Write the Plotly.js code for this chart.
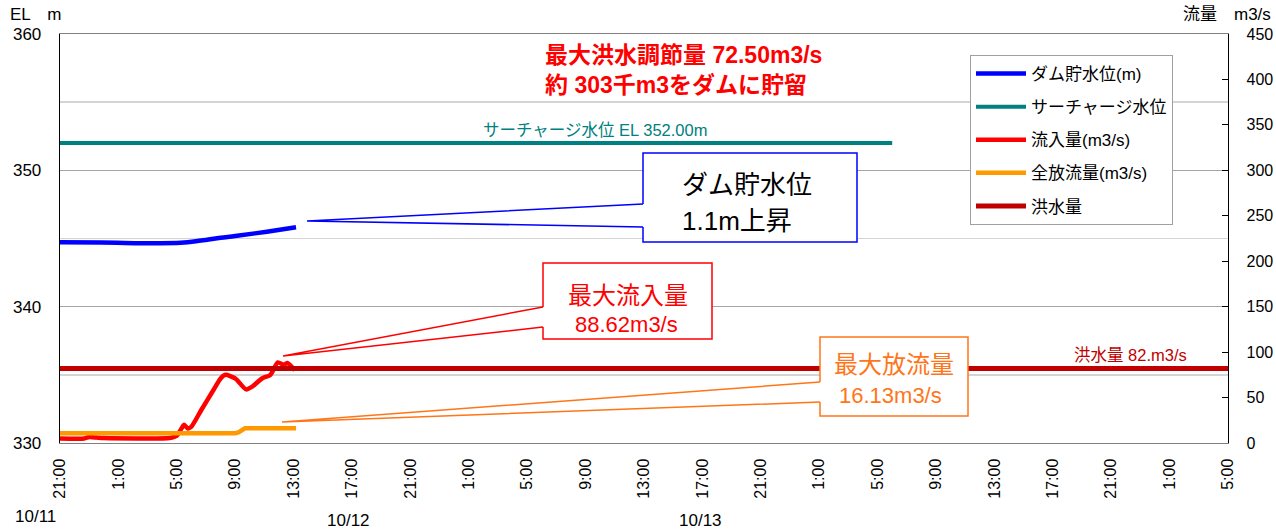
<!DOCTYPE html>
<html>
<head>
<meta charset="utf-8">
<script src="https://cdn.plot.ly/plotly-3.0.1.min.js"></script>
<style>html,body{margin:0;padding:0;background:#fff;}#chart{width:1276px;height:529px;}</style>
</head>
<body>
<div id="chart"></div>
<script>
// ---- data ----
const levelTimes = ['2019-10-11 21:00','2019-10-11 23:50','2019-10-12 05:15','2019-10-12 06:40','2019-10-12 08:00','2019-10-12 09:00','2019-10-12 11:10','2019-10-12 13:10'];
const levelValues = [344.72, 344.70, 344.68, 344.85, 345.05, 345.18, 345.50, 345.82];

const surchargeTimes = ['2019-10-11 21:00','2019-10-14 06:00'];
const surchargeValues = [352.0, 352.0];

const inflowTimes = ['2019-10-11 21:00','2019-10-11 22:40','2019-10-11 23:00','2019-10-11 23:30','2019-10-12 00:00','2019-10-12 04:30','2019-10-12 05:00','2019-10-12 05:15','2019-10-12 05:30','2019-10-12 05:45','2019-10-12 06:00','2019-10-12 06:40','2019-10-12 07:30','2019-10-12 08:00','2019-10-12 08:20','2019-10-12 09:00','2019-10-12 09:45','2019-10-12 10:10','2019-10-12 10:50','2019-10-12 11:25','2019-10-12 11:55','2019-10-12 12:20','2019-10-12 12:35','2019-10-12 13:05'];
const inflowValues = [5, 5, 6.5, 6, 5.5, 5.5, 8, 14, 20, 16, 18, 36, 58, 71, 75, 71, 59, 62, 71, 75, 88.6, 86, 88, 80];

const outflowTimes = ['2019-10-11 21:00','2019-10-12 09:00','2019-10-12 09:15','2019-10-12 09:40','2019-10-12 13:10'];
const outflowValues = [10.7, 10.7, 12, 16.1, 16.1];

const floodTimes = ['2019-10-11 21:00','2019-10-15 05:00'];
const floodValues = [82, 82];

const xRange = ['2019-10-11 21:00','2019-10-15 05:00'];
const dateLabels = ['10/11','10/12','10/13'];
const seriesNames = ['ダム貯水位(m)','サーチャージ水位','流入量(m3/s)','全放流量(m3/s)','洪水量'];

// ---- layout helpers (pixel -> paper) ----
const L = 60, R = 48, T = 34, B = 86, W = 1276, H = 529;
const PW = W - L - R, PH = H - T - B;
const px = x => (x - L) / PW;
const py = y => (H - B - y) / PH;
const FONT = 'Liberation Sans, Noto Sans CJK JP, sans-serif';

function callout(box, tip, gapTop, gapBot, color) {
  const [x0, y0, x1, y1] = box;
  return [
    {type:'rect', xref:'paper', yref:'paper', x0:px(x0), x1:px(x1), y0:py(y1), y1:py(y0), fillcolor:'#fff', line:{width:0}, layer:'above'},
    {type:'path', xref:'paper', yref:'paper', layer:'above', line:{color:color, width:1.5},
      path:`M${px(x0)},${py(gapTop)} L${px(x0)},${py(y0)} L${px(x1)},${py(y0)} L${px(x1)},${py(y1)} L${px(x0)},${py(y1)} L${px(x0)},${py(gapBot)}`},
    {type:'path', xref:'paper', yref:'paper', layer:'above', line:{color:color, width:1.5},
      path:`M${px(tip[0])},${py(tip[1])} L${px(x0)},${py(gapTop)} M${px(tip[0])},${py(tip[1])} L${px(x0)},${py(gapBot)}`}
  ];
}

const traces = [
  {x: levelTimes, y: levelValues, name: seriesNames[0], type:'scatter', mode:'lines', line:{color:'#0000ff', width:4.5, shape:'spline'}, yaxis:'y', legendgroup:'a'},
  {x: surchargeTimes, y: surchargeValues, name: seriesNames[1], type:'scatter', mode:'lines', line:{color:'#008080', width:4}, yaxis:'y', legendgroup:'b'},
  {x: inflowTimes, y: inflowValues, name: seriesNames[2], type:'scatter', mode:'lines', line:{color:'#ff0000', width:4.5, shape:'spline', smoothing:0.6}, yaxis:'y2', legendgroup:'c'},
  {x: outflowTimes, y: outflowValues, name: seriesNames[3], type:'scatter', mode:'lines', line:{color:'#ff9900', width:4.5}, yaxis:'y2', legendgroup:'d'},
  {x: floodTimes, y: floodValues, name: seriesNames[4], type:'scatter', mode:'lines', line:{color:'#c00000', width:5}, yaxis:'y2', legendgroup:'e'}
];

const shapes = [].concat(
  callout([643,153,857,242], [307,221], 204, 227, '#0000ff'),
  callout([543,263,712,339], [283,356], 307, 327, '#ff0000'),
  callout([820,337,968,416], [282,422], 382, 402, '#ff7518')
);

const ann = (x, y, text, opts) => Object.assign({xref:'paper', yref:'paper', x:px(x), y:py(y), xanchor:'center', yanchor:'middle', text:text, showarrow:false, font:{family:FONT, size:16, color:'#000'}}, opts || {});

const annotations = [
  ann(35, 14, 'EL　m', {font:{family:FONT, size:17, color:'#000'}}),
  ann(1273, 14, '流量　m3/s', {xanchor:'right', font:{family:FONT, size:17, color:'#000'}}),
  ann(543, 55, '<b>最大洪水調節量 72.50m3/s</b>', {xanchor:'left', font:{family:FONT, size:23, color:'#ff0000'}}),
  ann(543, 85, '<b>約 303千m3をダムに貯留</b>', {xanchor:'left', font:{family:FONT, size:23, color:'#ff0000'}}),
  ann(595, 130, 'サーチャージ水位 EL 352.00m', {font:{family:FONT, size:16.5, color:'#008080'}}),
  ann(680, 185, 'ダム貯水位', {xanchor:'left', font:{family:FONT, size:26, color:'#000'}}),
  ann(680, 221, '1.1m上昇', {xanchor:'left', font:{family:FONT, size:26, color:'#000'}}),
  ann(628, 295, '最大流入量', {font:{family:FONT, size:24, color:'#ff0000'}}),
  ann(626, 324, '88.62m3/s', {font:{family:FONT, size:22, color:'#ff0000'}}),
  ann(894, 364, '最大放流量', {font:{family:FONT, size:24, color:'#ff7518'}}),
  ann(890, 395, '16.13m3/s', {font:{family:FONT, size:22, color:'#ff7518'}}),
  ann(1130, 355, '洪水量 82.m3/s', {font:{family:FONT, size:16.5, color:'#c00000'}}),
  ann(35, 516, dateLabels[0], {font:{family:FONT, size:17, color:'#000'}}),
  ann(348, 520, dateLabels[1], {font:{family:FONT, size:17, color:'#000'}}),
  ann(700, 520, dateLabels[2], {font:{family:FONT, size:17, color:'#000'}})
];

const layout = {
  width: W, height: H,
  margin: {l:L, r:R, t:T, b:B, pad:0},
  paper_bgcolor:'#fff', plot_bgcolor:'#fff',
  font: {family: FONT, color:'#000'},
  showlegend: true,
  legend: {
    x: px(970), y: py(55), xanchor:'left', yanchor:'top',
    bgcolor:'#fff', bordercolor:'#a0a0a0', borderwidth:1,
    font:{family:FONT, size:17, color:'#000'},
    tracegroupgap: 8, itemwidth: 50
  },
  xaxis: {
    type:'date', range: xRange,
    tick0:'2019-10-11 21:00', dtick: 4*3600*1000,
    tickformat:'%-H:%M', tickangle:-90,
    tickfont:{family:FONT, size:16, color:'#000'},
    showgrid:false, zeroline:false,
    showline:true, linecolor:'#808080', linewidth:1.3, mirror:true,
    ticks:'', ticklabelstandoff: 8
  },
  yaxis: {
    range:[330,360], dtick:10, tick0:330,
    tickfont:{family:FONT, size:17, color:'#000'},
    showgrid:true, gridcolor:'#a6a6a6', gridwidth:1,
    minor:{dtick:5, showgrid:true, gridcolor:'#d4d4d4', gridwidth:1.5, ticks:''},
    zeroline:false, showline:true, linecolor:'#000', linewidth:1.3,
    ticks:'', ticklabelstandoff: 14
  },
  yaxis2: {
    range:[0,450], dtick:50, overlaying:'y', side:'right',
    tickfont:{family:FONT, size:16, color:'#000'},
    showgrid:false, zeroline:false,
    showline:true, linecolor:'#000', linewidth:1.3,
    ticks:'inside', ticklen:6, tickcolor:'#000', ticklabelstandoff: 14
  },
  shapes: shapes,
  annotations: annotations
};

Plotly.newPlot('chart', traces, layout, {displayModeBar:false, staticPlot:true});
</script>
</body>
</html>
